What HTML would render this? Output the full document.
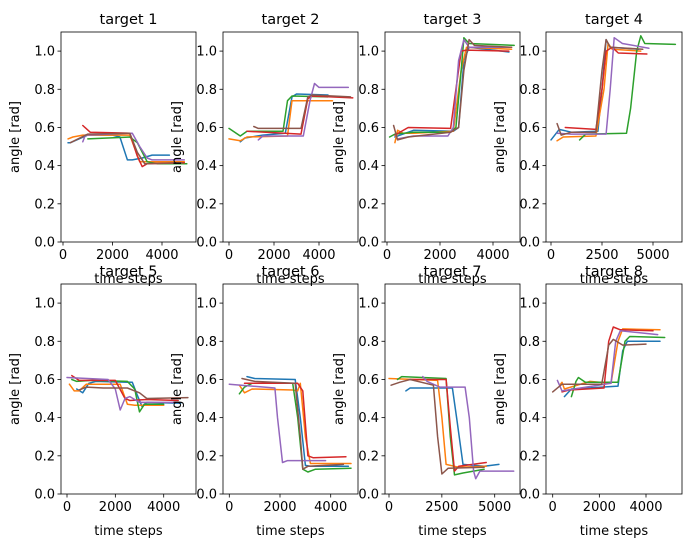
<!DOCTYPE html>
<html><head><meta charset="utf-8"><style>
html,body{margin:0;padding:0;background:#fff;}
svg{display:block;font-family:"DejaVu Sans","Liberation Sans",sans-serif;}
</style></head><body>
<svg id="chart" width="691" height="547" viewBox="0 0 691 547" xmlns="http://www.w3.org/2000/svg"></svg>
<script>
const titles = ["target 1","target 2","target 3","target 4","target 5","target 6","target 7","target 8"];
const yTicks = [0,0.2,0.4,0.6,0.8,1.0];
const yTickLabels = ["0.0","0.2","0.4","0.6","0.8","1.0"];
const xTicksA = [0,2000,4000];
const xTicksB = [0,2500,5000];
const colors = ["#1f77b4","#ff7f0e","#2ca02c","#d62728","#9467bd","#8c564b"];

const p1_t = [[200,300,1000,2000,2300,2600,2800,3200,3600,4300],[200,400,800,2700,3100,4900],[1000,2700,3000,3400,3800,5000],[800,1100,2700,3000,3200,3400,4900],[800,900,2800,3100,3400,3600,4900],[300,1000,2700,3000,3300,4800]];
const p1_v = [[0.52,0.52,0.56,0.56,0.55,0.43,0.43,0.44,0.455,0.455],[0.54,0.55,0.56,0.56,0.42,0.42],[0.54,0.55,0.52,0.42,0.41,0.41],[0.61,0.575,0.57,0.45,0.395,0.41,0.415],[0.525,0.56,0.57,0.50,0.44,0.43,0.43],[0.52,0.565,0.57,0.47,0.41,0.415]];
const p2_t = [[500,700,1500,2500,2800,3000,4400],[0,500,800,2600,2800,4600],[0,500,800,2400,2600,2800,4400],[800,3200,3500,3700,5500],[1300,1500,3300,3600,3800,4000,5300],[1100,1300,3200,3500,3700,5400]];
const p2_v = [[0.525,0.545,0.56,0.57,0.76,0.775,0.77],[0.54,0.53,0.55,0.555,0.74,0.74],[0.595,0.555,0.58,0.58,0.74,0.765,0.76],[0.58,0.565,0.75,0.765,0.755],[0.535,0.555,0.555,0.74,0.83,0.81,0.81],[0.605,0.595,0.595,0.76,0.77,0.76]];
const p3_t = [[300,500,1000,2500,2700,2900,3100,4600],[300,400,600,1000,2500,2800,3000,4700],[100,300,1000,2400,2600,2800,2900,3100,4800],[300,800,2400,2600,2800,3000,4600],[400,1000,2300,2500,2700,2900,3100,4700],[250,400,800,2400,2700,2900,3100,3300,4700]];
const p3_v = [[0.55,0.56,0.585,0.58,0.6,0.95,1.02,0.995],[0.52,0.585,0.57,0.57,0.58,0.9,1.02,1.01],[0.55,0.565,0.575,0.575,0.6,0.9,1.07,1.04,1.03],[0.56,0.6,0.595,0.8,1.0,1.005,1.0],[0.54,0.555,0.555,0.6,0.95,1.06,1.02,1.02],[0.61,0.535,0.55,0.575,0.6,0.9,1.06,1.03,1.02]];
const p4_t = [[0,400,1000,2300,2500,2700,2900,4300],[300,600,2200,2600,2800,3000,4400],[1400,1700,3700,3900,4200,4400,4600,6100],[700,2200,2500,2700,3000,3300,4700],[300,1000,2700,2900,3100,3500,4800],[300,500,1000,2200,2500,2700,2900,4500]];
const p4_v = [[0.535,0.59,0.575,0.58,0.8,1.06,1.02,1.01],[0.53,0.55,0.555,0.8,1.04,1.01,1.0],[0.535,0.565,0.57,0.7,1.0,1.08,1.04,1.035],[0.6,0.59,0.8,1.0,1.02,0.99,0.985],[0.57,0.565,0.565,0.8,1.07,1.04,1.015],[0.62,0.56,0.575,0.575,0.9,1.06,1.02,1.01]];
const p5_t = [[400,650,900,1200,2700,2900,3100,3300,4700],[100,300,500,800,2200,2500,2800,4000],[200,400,1000,2500,2800,3000,3200,4000],[200,500,2000,2400,2600,3300,4600],[0,1700,2000,2200,2400,2600,3000,4500],[500,800,1500,2500,3000,3300,5000]];
const p5_v = [[0.55,0.53,0.58,0.59,0.585,0.52,0.46,0.48,0.475],[0.575,0.54,0.54,0.575,0.575,0.47,0.465,0.465],[0.6,0.59,0.595,0.59,0.55,0.43,0.47,0.47],[0.62,0.595,0.595,0.5,0.49,0.495,0.49],[0.61,0.6,0.55,0.44,0.5,0.51,0.48,0.48],[0.545,0.56,0.555,0.555,0.53,0.5,0.505]];
const p6_t = [[700,1000,2600,2800,3000,3200,4700],[400,600,900,2500,2700,2800,3000,3200,4800],[400,600,900,2500,2700,2900,3100,3400,4800],[600,2700,2900,3100,3300,4600],[0,1800,1900,2100,2300,3800],[500,1000,2600,2800,2900,3100,4500]];
const p6_v = [[0.615,0.605,0.6,0.4,0.15,0.145,0.145],[0.57,0.53,0.55,0.545,0.54,0.58,0.3,0.16,0.16],[0.525,0.56,0.58,0.58,0.4,0.13,0.115,0.13,0.135],[0.58,0.58,0.54,0.2,0.19,0.195],[0.575,0.555,0.4,0.165,0.175,0.175],[0.605,0.59,0.58,0.3,0.13,0.145,0.155]];
const p7_t = [[800,1000,3000,3200,3500,4500,5200],[0,2300,2500,2700,3300,4600],[400,600,2700,2900,3100,3500,4500],[1000,2700,2900,3100,3300,4600],[1600,1800,2400,3600,3800,4000,4100,4300,5900],[100,500,1000,2100,2300,2500,2800,4500]];
const p7_v = [[0.54,0.555,0.555,0.4,0.155,0.145,0.155],[0.605,0.595,0.4,0.155,0.14,0.145],[0.6,0.615,0.605,0.3,0.1,0.11,0.13],[0.6,0.6,0.35,0.12,0.145,0.165],[0.615,0.59,0.56,0.56,0.4,0.12,0.08,0.12,0.12],[0.57,0.585,0.6,0.57,0.3,0.105,0.135,0.14]];
const p8_t = [[500,800,2800,3000,3200,4600],[300,400,500,1600,2500,2800,3000,4600],[800,1000,1100,1400,2800,3100,3300,4800],[400,700,2200,2400,2600,2900,4300],[200,400,2500,2700,2900,4500],[0,400,2100,2400,2600,3000,4000]];
const p8_v = [[0.51,0.55,0.565,0.75,0.8,0.8],[0.57,0.585,0.55,0.59,0.58,0.8,0.865,0.86],[0.51,0.59,0.61,0.585,0.585,0.8,0.825,0.82],[0.535,0.545,0.555,0.8,0.875,0.86,0.855],[0.595,0.54,0.58,0.8,0.855,0.835],[0.535,0.575,0.575,0.78,0.81,0.78,0.785]];

const allT=[p1_t,p2_t,p3_t,p4_t,p5_t,p6_t,p7_t,p8_t];
const allV=[p1_v,p2_v,p3_v,p4_v,p5_v,p6_v,p7_v,p8_v];
const layout=[[61,196,32,242,63,99/4000],[223,358,32,242,229,90/4000],[385,520,32,242,387,106/4000],[546,682,32,242,551,102/5000],
[61,196,284,494,67,96.7/4000],[223,358,284,494,229.3,101.4/4000],[385,520,284,494,389,105.7/5000],[546,682,284,494,552.7,93.3/4000]];
const NS="http://www.w3.org/2000/svg";
const svg=document.getElementById('chart');
function mk(tag,attrs,parent){const e=document.createElementNS(NS,tag);for(const k in attrs)e.setAttribute(k,attrs[k]);parent.appendChild(e);return e;}
layout.forEach((L,i)=>{
  const [l,r,t,b,x0,k]=L;
  const g=mk('g',{},svg);
  
  
  const xs=v=>x0+v*k;
  const ys=v=>b-v*(b-t)/1.1;
  const clip=mk('clipPath',{id:'c'+i},g);
  mk('rect',{x:l,y:t,width:r-l,height:b-t},clip);
  const lines=mk('g',{'clip-path':'url(#c'+i+')'},g);
  allT[i].forEach((ts,s)=>{
    const vs=allV[i][s];
    const pts=ts.map((tt,j)=>xs(tt).toFixed(1)+','+ys(vs[j]).toFixed(1)).join(' ');
    const pl=mk('polyline',{points:pts,fill:'none',stroke:colors[s],'stroke-width':1.5,'stroke-linejoin':'round','stroke-linecap':'round'},lines);
    
    
  });
  const fr=mk('rect',{x:l,y:t,width:r-l,height:b-t,fill:'none',stroke:'#000','stroke-width':0.8},g);
  
  
  yTicks.forEach((v,j)=>{
    const y=ys(v);
    mk('line',{x1:l-3.5,x2:l,y1:y,y2:y,stroke:'#000','stroke-width':0.8},g);
    const tx=mk('text',{x:l-6,y:y+4.5,'text-anchor':'end','font-size':13,fill:'#000'},g);
    tx.textContent=yTickLabels[j];
    
    
  });
  const xt=(i===3||i===6)?xTicksB:xTicksA;
  xt.forEach(v=>{
    const x=xs(v);
    mk('line',{x1:x,x2:x,y1:b,y2:b+3.5,stroke:'#000','stroke-width':0.8},g);
    const tx=mk('text',{x:x,y:b+17,'text-anchor':'middle','font-size':13,fill:'#000'},g);
    tx.textContent=String(v);
    
    
  });
  const ti=mk('text',{x:(l+r)/2,y:t-8,'text-anchor':'middle','font-size':14.5,fill:'#000'},g);
  ti.textContent=titles[i];
  
  
  const xl=mk('text',{x:(l+r)/2,y:b+41,'text-anchor':'middle','font-size':13,fill:'#000'},g);
  xl.textContent='time steps';
  
  
  const yx=l-42, yy=(t+b)/2;
  const yl=mk('text',{x:yx,y:yy,'text-anchor':'middle','font-size':13,fill:'#000',transform:'rotate(-90 '+yx+' '+yy+')'},g);
  yl.textContent='angle [rad]';
  
  
});
</script>
</body></html>
